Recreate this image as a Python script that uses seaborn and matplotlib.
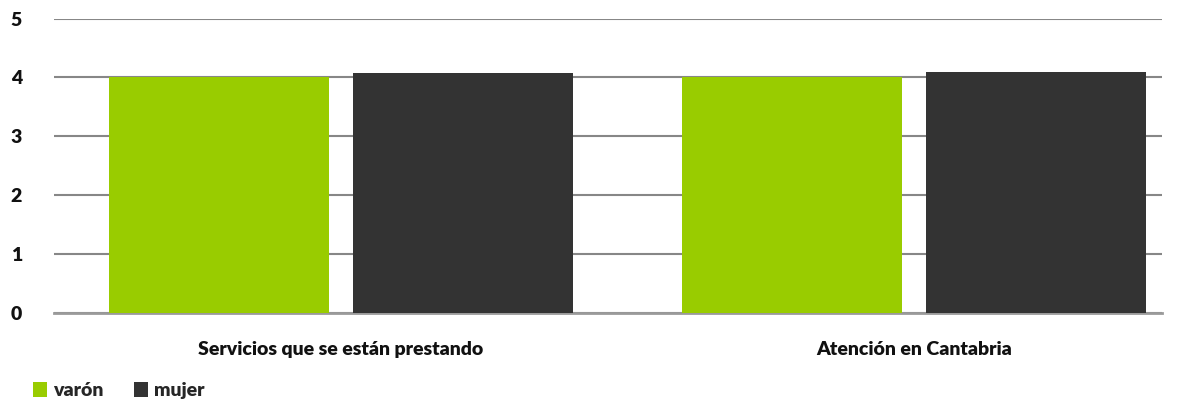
import matplotlib
matplotlib.use("Agg")
import matplotlib.pyplot as plt
import seaborn as sns
import pandas as pd

categories = ["Servicios que se están prestando", "Atención en Cantabria"]
series = ["varón", "mujer"]
varon = [4.0, 4.0]
mujer = [4.07, 4.10]
colors = ["#99cc00", "#333333"]
yticks = [0, 1, 2, 3, 4, 5]

df = pd.DataFrame({
    "categoria": categories * 2,
    "sexo": [series[0]] * 2 + [series[1]] * 2,
    "valor": varon + mujer,
})

sns.set_theme(style="white")
plt.rcParams["font.family"] = ["Lato", "DejaVu Sans"]

fig = plt.figure(figsize=(11.89, 3.99), dpi=100)
ax = fig.add_axes([54 / 1189, 1 - 313 / 399, 1108 / 1189, 294.5 / 399])

sns.barplot(data=df, x="categoria", y="valor", hue="sexo", order=categories,
            hue_order=series, palette=colors, width=0.852, gap=0.098,
            saturation=1, linewidth=0, ax=ax, legend=True, zorder=3)

ax.set_xlim(-0.501, 1.433)
ax.set_ylim(0, 5)
ax.set_yticks(yticks)
ax.yaxis.grid(True, color="#878787", linewidth=1.5, zorder=0)
ax.set_axisbelow(True)
for s in ["top", "right", "left"]:
    ax.spines[s].set_visible(False)
ax.spines["bottom"].set_color("#9a9a9a")
ax.spines["bottom"].set_linewidth(2)
ax.set_xlabel("")
ax.set_ylabel("")
ax.tick_params(axis="y", length=0, pad=23, labelsize=14)
ax.tick_params(axis="x", length=0, pad=20, labelsize=14)
for lbl in ax.get_yticklabels() + ax.get_xticklabels():
    lbl.set_fontweight("heavy")
    lbl.set_color("#111111")

handles, labels = ax.get_legend_handles_labels()
ax.get_legend().remove()
fig.legend(handles, labels, loc="lower left", bbox_to_anchor=(33 / 1189, 0.0),
           ncol=2, frameon=False, borderpad=0, borderaxespad=0,
           handlelength=0.72, handleheight=0.82,
           handletextpad=0.31, columnspacing=1.55,
           prop={"weight": "heavy", "size": 14})

fig.savefig("out.png", dpi=100)
